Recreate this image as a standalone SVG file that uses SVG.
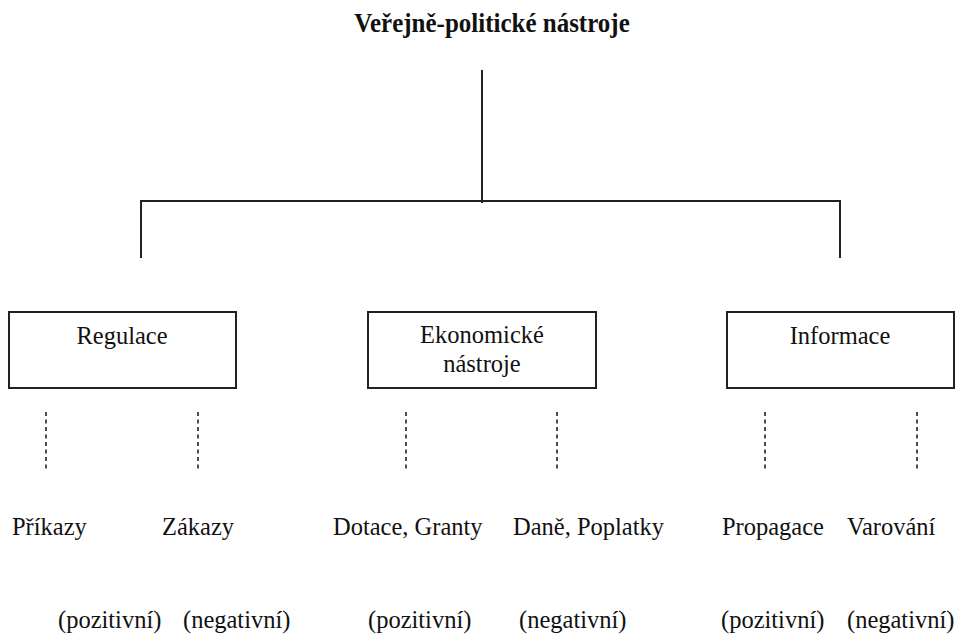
<svg xmlns="http://www.w3.org/2000/svg" width="959" height="638" viewBox="0 0 959 638">
<style>
text{font-family:"Liberation Serif","Times New Roman",serif;font-size:24.5px;fill:#111;}
.t{font-weight:bold;font-size:25px;}
.box{fill:#fff;stroke:#222;stroke-width:2;}
.ln{stroke:#222;stroke-width:2;fill:none;}
.ds{stroke:#222;stroke-width:1.6;stroke-dasharray:4 3.5;fill:none;}
</style>
<rect width="959" height="638" fill="#fff"/>
<g id="title"><text class="t" x="492" y="0" text-anchor="middle" transform="translate(0,32) scale(1,1.1)">Veřejně-politické nástroje</text></g>
<g id="connectors">
<path class="ln" d="M482 70V203M141 258V201H840V258"/>
<path class="ds" d="M46 412V470M198 412V470M406 412V470M557 412V470M765 412V470M917 412V470"/>
</g>
<g id="regulace"><rect class="box" x="9" y="312" width="227" height="76"/><text x="122" y="0" text-anchor="middle" transform="translate(0,344) scale(1,1.07)">Regulace</text></g>
<g id="ekonomicke"><rect class="box" x="368" y="312" width="228" height="76"/><text x="482" y="0" text-anchor="middle" transform="translate(0,343) scale(1,1.07)">Ekonomické</text><text x="482" y="0" text-anchor="middle" transform="translate(0,372) scale(1,1.07)">nástroje</text></g>
<g id="informace"><rect class="box" x="727" y="312" width="227" height="76"/><text x="840" y="0" text-anchor="middle" transform="translate(0,344) scale(1,1.07)">Informace</text></g>
<g id="prikazy"><text x="12" y="0" transform="translate(0,535) scale(1,1.07)">Příkazy</text><text x="58" y="0" transform="translate(0,628) scale(1,1.07)">(pozitivní)</text></g>
<g id="zakazy"><text x="162" y="0" transform="translate(0,535) scale(1,1.07)">Zákazy</text><text x="183" y="0" transform="translate(0,628) scale(1,1.07)">(negativní)</text></g>
<g id="dotace"><text x="333" y="0" transform="translate(0,535) scale(1,1.07)">Dotace, Granty</text><text x="368" y="0" transform="translate(0,628) scale(1,1.07)">(pozitivní)</text></g>
<g id="dane"><text x="513" y="0" transform="translate(0,535) scale(1,1.07)">Daně, Poplatky</text><text x="519" y="0" transform="translate(0,628) scale(1,1.07)">(negativní)</text></g>
<g id="propagace"><text x="722" y="0" transform="translate(0,535) scale(1,1.07)">Propagace</text><text x="721" y="0" transform="translate(0,628) scale(1,1.07)">(pozitivní)</text></g>
<g id="varovani"><text x="847" y="0" transform="translate(0,535) scale(1,1.07)">Varování</text><text x="847" y="0" transform="translate(0,628) scale(1,1.07)">(negativní)</text></g>
</svg>
